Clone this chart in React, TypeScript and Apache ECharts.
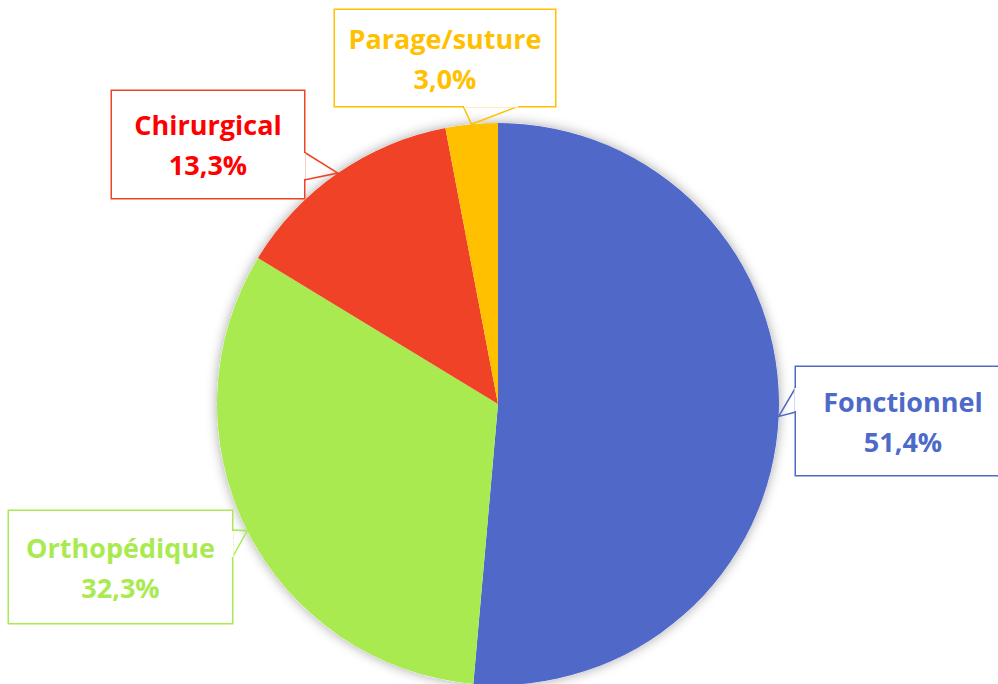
import React, { useEffect, useRef } from "react";
import * as echarts from "echarts";

const categories = ["Fonctionnel", "Orthopédique", "Chirurgical", "Parage/suture"];
const values = [51.4, 32.3, 13.3, 3.0];
const sliceColors = ["#5069C8", "#A9EA51", "#F04226", "#FFC000"];
const textColors = ["#4E6AC8", "#A9EA51", "#FF0000", "#FFC000"];

// callout boxes: centre, size, and the two points of the pointer base on the box edge
const boxes = [
  { cx: 903, cy: 421, w: 214, h: 108, a: [796, 387], b: [796, 412] },
  { cx: 120.5, cy: 567, w: 223, h: 112, a: [232, 530], b: [232, 558] },
  { cx: 208, cy: 144.5, w: 192, h: 107, a: [304, 152], b: [304, 180] },
  { cx: 445, cy: 58, w: 220, h: 96, a: [463, 106], b: [519, 106] },
];

const LINE_H = 40;

export default function App() {
  const ref = useRef<HTMLDivElement>(null);
  useEffect(() => {
    document.body.style.margin = "0";
    const chart = echarts.init(ref.current!, null, { renderer: "svg" });
    const data = categories.map((name, i) => {
      const b = boxes[i];
      const pv = (b.h - 2 * LINE_H) / 2;
      return {
        name,
        value: values[i],
        itemStyle: { color: sliceColors[i] },
        label: {
          color: textColors[i],
          borderColor: sliceColors[i],
          width: b.w - 20,
          padding: [pv, 10, pv, 10],
        },
        labelLine: { lineStyle: { color: sliceColors[i], width: 1.5 } },
      };
    });
    // white strokes opening the box edge where the pointer leaves it
    const openings = boxes.map((b) => {
      const vertical = b.a[0] === b.b[0];
      return {
        type: "line",
        z: 100,
        silent: true,
        shape: vertical
          ? { x1: b.a[0], y1: b.a[1] + 1, x2: b.b[0], y2: b.b[1] - 1 }
          : { x1: b.a[0] + 1, y1: b.a[1], x2: b.b[0] - 1, y2: b.b[1] },
        style: { stroke: "#ffffff", lineWidth: 3 },
      };
    });
    chart.setOption({
      animation: false,
      graphic: openings,
      series: [
        {
          type: "pie",
          silent: true,
          center: [498, 404],
          radius: 281,
          z: 1,
          label: { show: false },
          labelLine: { show: false },
          itemStyle: {
            color: "#ffffff",
            shadowBlur: 12,
            shadowColor: "rgba(0,0,0,0.35)",
          },
          data: [{ value: 1, name: "" }],
        },
        {
          type: "pie",
          center: [498, 404],
          radius: 281,
          startAngle: 90,
          clockwise: true,
          z: 2,
          avoidLabelOverlap: false,
          itemStyle: { borderWidth: 0 },
          label: {
            show: true,
            position: "outside",
            formatter: (p: any) =>
              p.name + "\n" + Number(p.value).toFixed(1).replace(".", ",") + "%",
            fontFamily: "Open Sans",
            fontWeight: "bold",
            fontSize: 27,
            lineHeight: LINE_H,
            align: "center",
            backgroundColor: "#ffffff",
            borderWidth: 1.5,
          },
          labelLine: { show: true, length: 10, length2: 10 },
          labelLayout: (params: any) => {
            const b = boxes[params.dataIndex];
            const pts = params.labelLinePoints;
            const tip = pts && pts[0] ? pts[0] : b.a;
            return {
              x: b.cx,
              y: b.cy,
              align: "center",
              verticalAlign: "middle",
              labelLinePoints: [b.a, tip, b.b],
            };
          },
          data,
        },
      ],
    });
    return () => chart.dispose();
  }, []);
  return <div ref={ref} style={{ width: 998, height: 684 }} />;
}
